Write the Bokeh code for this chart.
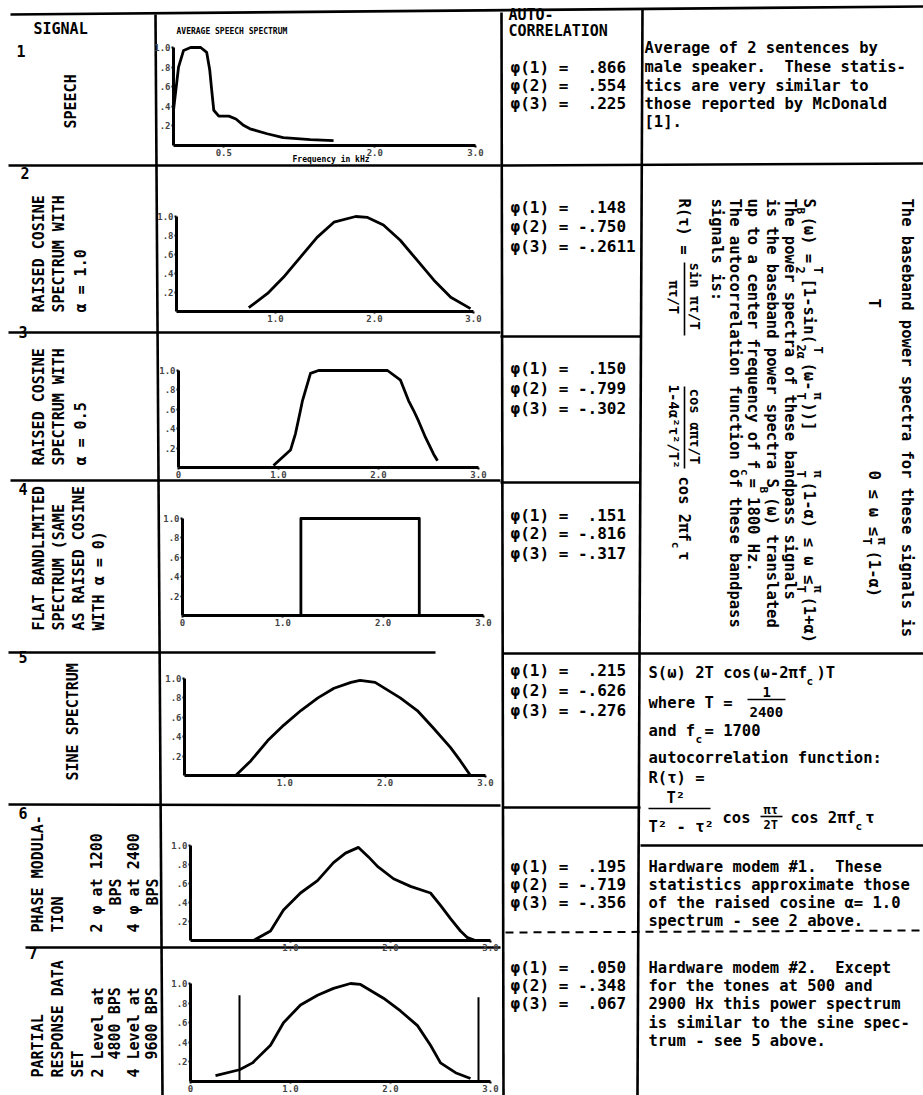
import math
from collections import defaultdict
from bokeh.plotting import figure
from bokeh.models import Range1d, LinearAxis, FixedTicker, CustomJSTickFormatter, ColumnDataSource
from bokeh.core.properties import value
from bokeh.embed import file_html
from bokeh.resources import INLINE

# ------------------------------------------------------------------
# DATA
# ------------------------------------------------------------------
speech_khz = [0.00, 0.05, 0.10, 0.17, 0.27, 0.33, 0.36, 0.38, 0.40, 0.45, 0.55, 0.62, 0.69, 0.76, 0.93, 1.09, 1.36, 1.59]
speech_pwr = [0.36, 0.80, 0.97, 1.00, 1.00, 0.95, 0.77, 0.56, 0.36, 0.30, 0.30, 0.27, 0.21, 0.17, 0.12, 0.08, 0.06, 0.05]

rc10_khz = [0.73, 0.92, 1.08, 1.25, 1.42, 1.59, 1.81, 1.93, 2.09, 2.26, 2.43, 2.60, 2.77, 2.97]
rc10_pwr = [0.04, 0.19, 0.36, 0.57, 0.78, 0.94, 1.00, 0.99, 0.91, 0.75, 0.54, 0.33, 0.15, 0.03]

rc05_khz = [0.95, 1.12, 1.17, 1.22, 1.24, 1.32, 1.40, 1.47, 2.09, 2.22, 2.30, 2.35, 2.40, 2.47, 2.55, 2.59]
rc05_pwr = [0.02, 0.18, 0.35, 0.59, 0.69, 0.97, 1.00, 1.00, 1.00, 0.90, 0.69, 0.59, 0.48, 0.31, 0.14, 0.07]

flat_khz = [1.18, 1.18, 2.36, 2.36]
flat_pwr = [0.00, 1.00, 1.00, 0.00]

sine_khz = [0.51, 0.66, 0.83, 0.99, 1.16, 1.33, 1.49, 1.66, 1.75, 1.90, 2.15, 2.32, 2.48, 2.65, 2.75, 2.85]
sine_pwr = [0.00, 0.15, 0.36, 0.52, 0.67, 0.80, 0.90, 0.96, 0.98, 0.96, 0.80, 0.67, 0.49, 0.29, 0.15, 0.00]

pm_khz = [0.63, 0.80, 0.93, 1.10, 1.27, 1.43, 1.55, 1.68, 1.78, 1.87, 2.03, 2.20, 2.40, 2.50, 2.60, 2.70, 2.77, 2.85]
pm_pwr = [0.00, 0.10, 0.32, 0.50, 0.63, 0.82, 0.92, 0.98, 0.88, 0.78, 0.65, 0.57, 0.50, 0.37, 0.23, 0.10, 0.03, 0.00]

pr_khz = [0.25, 0.49, 0.62, 0.80, 0.93, 1.10, 1.27, 1.43, 1.60, 1.70, 1.93, 2.10, 2.27, 2.40, 2.50, 2.65, 2.80]
pr_pwr = [0.06, 0.12, 0.19, 0.37, 0.60, 0.78, 0.88, 0.95, 1.00, 0.99, 0.85, 0.72, 0.57, 0.37, 0.19, 0.09, 0.03]
pr_tone_khz = [0.49, 2.88]
pr_tone_pwr = [0.88, 0.86]

y_ticks = [0.2, 0.4, 0.6, 0.8, 1.0]
x_ticks = {1: [0.5, 2.0, 3.0], 2: [1.0, 2.0, 3.0], 3: [0.0, 1.0, 2.0, 3.0], 4: [0.0, 1.0, 2.0, 3.0],
           5: [1.0, 2.0, 3.0], 6: [1.0, 2.0, 3.0], 7: [0.0, 1.0, 2.0, 3.0]}

phi_names = ["φ(1)", "φ(2)", "φ(3)"]
autocorr = {
    1: [".866", ".554", ".225"],
    2: [".148", "-.750", "-.2611"],
    3: [".150", "-.799", "-.302"],
    4: [".151", "-.816", "-.317"],
    5: [".215", "-.626", "-.276"],
    6: [".195", "-.719", "-.356"],
    7: [".050", "-.348", ".067"],
}

signal_names = {
    1: ["SPEECH"],
    2: ["RAISED COSINE", "SPECTRUM WITH", "α = 1.0"],
    3: ["RAISED COSINE", "SPECTRUM WITH", "α = 0.5"],
    4: ["FLAT BANDLIMITED", "SPECTRUM (SAME", "AS RAISED COSINE", "WITH α = 0)"],
    5: ["SINE SPECTRUM"],
    6: ["PHASE MODULA-", "TION", "2 φ at 1200", "BPS", "4 φ at 2400", "BPS"],
    7: ["PARTIAL", "RESPONSE DATA", "SET", "2 Level at", "4800 BPS", "4 Level at", "9600 BPS"],
}

notes1 = ["Average of 2 sentences by", "male speaker.\u00a0 These statis-", "tics are very similar to",
          "those reported by McDonald", "[1]."]
notes6 = ["Hardware modem #1.\u00a0 These", "statistics approximate those", "of the raised cosine α= 1.0",
          "spectrum - see 2 above."]
notes7 = ["Hardware modem #2.\u00a0 Except", "for the tones at 500 and", "2900 Hx this power spectrum",
          "is similar to the sine spec-", "trum - see 5 above."]

# ------------------------------------------------------------------
# LAYOUT (page pixel coordinates)
# ------------------------------------------------------------------
W, H = 923, 1095
L0, T0 = 0, 0
FONT = value("DejaVu Sans Mono")

p = figure(width=W, height=H, x_range=Range1d(L0, L0 + W), y_range=Range1d(T0 + H, T0),
           x_axis_type=None, y_axis_type=None, output_backend="svg", toolbar_location=None,
           min_border=0, outline_line_color=None)
p.background_fill_color = "white"
p.border_fill_color = "white"

# per-plot calibration: (x of 0 kHz, x of 3 kHz, y of 1.0, y of 0)
CAL = {1: (173, 475, 47, 145), 2: (176, 473, 216, 311), 3: (178, 478, 370, 467),
       4: (182, 483, 518, 615), 5: (184, 485, 678, 775), 6: (190, 490, 845, 940),
       7: (190, 490, 983, 1081)}
xr, yr = {}, {}
for i, (x0, x3, top, base) in CAL.items():
    kx = (x3 - x0) / 3.0
    c = (L0 - x0) / kx
    xr[f"x{i}"] = Range1d(c, c + W / kx)
    ky = base - top
    a = (base - (T0 + H)) / ky
    yr[f"y{i}"] = Range1d(a, a + H / ky)
p.extra_x_ranges = xr
p.extra_y_ranges = yr

xfmt = "return tick == 0 ? '0' : tick.toFixed(1)"
yfmt = "return tick >= 1 ? tick.toFixed(1) : tick.toFixed(1).slice(1)"

def axes(i, lab_size="9px"):
    xn, yn = f"x{i}", f"y{i}"
    ya = LinearAxis(x_range_name=xn, y_range_name=yn, fixed_location=0, bounds=(0, 1),
                    ticker=FixedTicker(ticks=y_ticks), formatter=CustomJSTickFormatter(code=yfmt))
    xa = LinearAxis(x_range_name=xn, y_range_name=yn, fixed_location=0, bounds=(0, 3),
                    ticker=FixedTicker(ticks=x_ticks[i]), formatter=CustomJSTickFormatter(code=xfmt))
    for ax in (ya, xa):
        ax.axis_line_width = 3
        ax.axis_line_color = "black"
        ax.major_tick_in = 0
        ax.major_tick_out = 2
        ax.major_tick_line_width = 2
        ax.minor_tick_in = 0
        ax.minor_tick_out = 0
        ax.major_label_text_font = "DejaVu Sans Mono"
        ax.major_label_text_font_style = "bold"
        ax.major_label_text_font_size = lab_size
        ax.major_label_standoff = 1
    p.add_layout(ya, "left")
    p.add_layout(xa, "below")

curves = {1: (speech_khz, speech_pwr), 2: (rc10_khz, rc10_pwr), 3: (rc05_khz, rc05_pwr),
          4: (flat_khz, flat_pwr), 5: (sine_khz, sine_pwr), 6: (pm_khz, pm_pwr), 7: (pr_khz, pr_pwr)}
for i, (xs, ys) in curves.items():
    axes(i)
    p.line(xs, ys, x_range_name=f"x{i}", y_range_name=f"y{i}", line_color="black", line_width=2.8,
           line_join="round")
p.segment(x0=pr_tone_khz, y0=[0] * len(pr_tone_khz), x1=pr_tone_khz, y1=pr_tone_pwr,
          x_range_name="x7", y_range_name="y7", line_color="black", line_width=2)

# ---------------- table rules ----------------
rules = [
    (10, 14, 923, 6), (8, 165, 500, 165), (500, 165, 923, 163),
    (8, 332, 500, 332), (500, 336, 640, 336),
    (10, 480, 500, 480), (500, 482, 640, 482),
    (8, 652, 435, 652), (503, 653, 923, 653),
    (8, 804, 500, 805), (502, 807, 640, 807), (640, 845, 923, 845),
    (25, 947, 500, 947),
    (155, 14, 162, 1095), (501, 12, 503, 1095), (642, 8, 637, 1095),
]
p.segment(x0=[r[0] for r in rules], y0=[r[1] for r in rules], x1=[r[2] for r in rules],
          y1=[r[3] for r in rules], line_color="black", line_width=2.6)
p.segment(x0=[505], y0=[932], x1=[923], y1=[930], line_color="black", line_width=2, line_dash="8 6")
# fraction bars
bars = [(747, 699, 785, 699), (648, 808, 710, 808), (760, 816, 782, 816),
        (684, 262, 684, 335), (684, 386, 684, 468)]
p.segment(x0=[b[0] for b in bars], y0=[b[1] for b in bars], x1=[b[2] for b in bars],
          y1=[b[3] for b in bars], line_color="black", line_width=1.6)

# ---------------- texts ----------------
TX = []
def t(s, x, y, size=16, ang=0.0):
    TX.append((s, x, y, size, ang))

UP, DOWN = math.pi / 2, -math.pi / 2
CW = 9.33  # char advance of 15.5px mono

t("SIGNAL", 33, 28, 15)
t("AUTO-", 508, 14, 15)
t("CORRELATION", 508, 30, 15)
for n, (x, y) in {1: (16, 50), 2: (20, 172), 3: (18, 331), 4: (18, 488), 5: (18, 656),
                  6: (18, 812), 7: (28, 952)}.items():
    t(str(n), x, y, 15)

col1_pos = {
    1: [(70, 128)],
    2: [(38, 312), (58, 312), (80, 312)],
    3: [(38, 465), (58, 465), (80, 465)],
    4: [(38, 630), (58, 630), (78, 630), (98, 630)],
    5: [(72, 780)],
    6: [(37, 932), (57, 932), (96, 932), (115, 905), (133, 932), (152, 905)],
    7: [(37, 1077), (57, 1077), (77, 1077), (97, 1077), (114, 1059), (133, 1077), (151, 1059)],
}
for i, names in signal_names.items():
    for s, (x, y) in zip(names, col1_pos[i]):
        t(s, x, y, 15, UP)

phi_y = {1: [67, 85, 103], 2: [207, 226, 246], 3: [368, 388, 408], 4: [515, 533, 553],
         5: [670, 690, 710], 6: [866, 884, 902], 7: [967, 985, 1003]}
for i, vals in autocorr.items():
    for nm, v, y in zip(phi_names, vals, phi_y[i]):
        sp = "\u00a0" if v.startswith("-") else "\u00a0\u00a0"
        t(nm + "\u00a0=" + sp + v, 510, y)

for s, y in zip(notes1, [47, 66, 85, 103, 121]):
    t(s, 644, y, 15.5)
for s, y in zip(notes6, [866, 884, 902, 920]):
    t(s, 648, y, 15.5)
for s, y in zip(notes7, [967, 985, 1003, 1022, 1040]):
    t(s, 648, y, 15.5)

# row 5 formulas
t("S(ω) 2T cos(ω-2πf )T", 648, 672, 15.5)
t("c", 806, 681, 11)
t("where T =", 648, 702, 15.5)
t("1", 762, 691, 14)
t("2400", 749, 711, 14)
t("and f  = 1700", 648, 730, 15.5)
t("c", 695, 739, 11)
t("autocorrelation function:", 648, 757, 15.5)
t("R(τ) =", 648, 777, 15.5)
t("T²", 666, 797, 15.5)
t("T² - τ²", 648, 826, 15.5)
t("cos", 722, 817, 15.5)
t("πτ", 763, 809, 12)
t("2T", 763, 824, 12)
t("cos 2πf τ", 790, 817, 15.5)
t("c", 855, 826, 11)

# rotated block (rows 2-4, notes column)
R = 15.5
t("The baseband power spectra for these signals is", 906, 198, R, DOWN)
t("T", 873, 298, R, DOWN)
t("0 ≤ ω ≤", 873, 470, R, DOWN)
t("π", 881, 537, 12, DOWN)
t("T", 866, 537, 12, DOWN)
t("(1-α)", 873, 550, R, DOWN)
t("S", 808, 198, R, DOWN)
t("B", 800, 207, 11, DOWN)
t("(ω) =", 808, 216, R, DOWN)
t("T", 817, 266, 12, DOWN)
t("2", 800, 266, 12, DOWN)
t("[1-sin(", 808, 278, R, DOWN)
t("T", 817, 346, 12, DOWN)
t("2α", 800, 344, 12, DOWN)
t("(ω-", 808, 362, R, DOWN)
t("π", 817, 392, 12, DOWN)
t("T", 800, 392, 12, DOWN)
t("))]", 808, 402, R, DOWN)
t("π", 817, 470, 12, DOWN)
t("T", 800, 470, 12, DOWN)
t("(1-α) ≤ ω ≤", 808, 481, R, DOWN)
t("π", 817, 585, 12, DOWN)
t("T", 800, 585, 12, DOWN)
t("(1+α)", 808, 596, R, DOWN)
t("The power spectra of these bandpass signals", 789, 198, R, DOWN)
t("is the baseband power spectra S (ω) translated", 771, 198, R, DOWN)
t("B", 763, 198 + 30 * CW + 8, 11, DOWN)
t("up to a center frequency of f  = 1800 Hz.", 752, 198, R, DOWN)
t("c", 744, 198 + 29 * CW, 11, DOWN)
t("The autocorrelation function of these bandpass", 734, 198, R, DOWN)
t("signals is:", 716, 198, R, DOWN)
t("R(τ) =", 683, 198, R, DOWN)
t("sin πτ/T", 694, 262, 14, DOWN)
t("πτ/T", 673, 280, 14, DOWN)
t("cos απτ/T", 694, 388, 14, DOWN)
t("1-4α²τ²/T²", 673, 384, 14, DOWN)
t("cos 2πf τ", 683, 476, R, DOWN)
t("c", 675, 476 + 7 * CW, 11, DOWN)

# speech plot captions
t("AVERAGE SPEECH SPECTRUM", 176, 31, 8)
t("Frequency in kHz", 292, 159, 8)

groups = defaultdict(lambda: {"x": [], "y": [], "text": []})
for s, x, y, size, ang in TX:
    g = groups[(size, ang)]
    g["x"].append(x)
    g["y"].append(y)
    g["text"].append(s)
for (size, ang), g in groups.items():
    p.text(x="x", y="y", text="text", source=ColumnDataSource(g), angle=ang,
           text_font=FONT, text_font_style="bold", text_font_size=f"{size}px",
           text_align="left", text_baseline="middle", text_color="black")

open("out.html", "w").write(file_html(p, INLINE))
